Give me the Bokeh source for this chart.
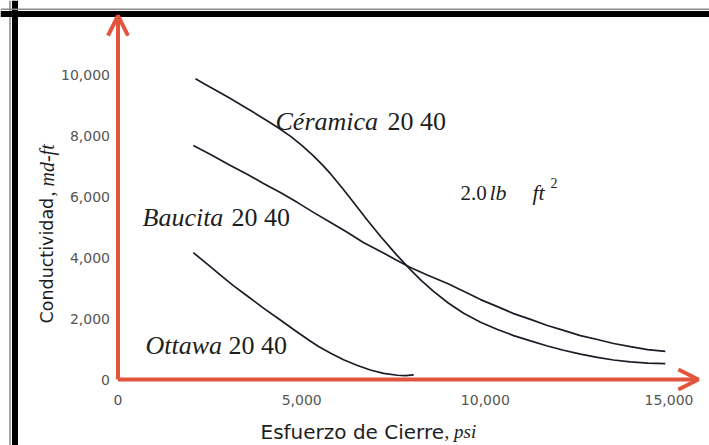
import math
from bokeh.plotting import figure
from bokeh.models import (Range1d, FixedTicker, NumeralTickFormatter, Label, Span,
                          Arrow, OpenHead)
from bokeh.embed import file_html
from bokeh.resources import INLINE

# ---------------- data ----------------
ceramica_x = [2110, 2380, 2650, 3060, 3470, 3960, 4340, 4700, 5020, 5320, 5570,
              5790, 6110, 6410, 6790, 7150, 7560, 7960, 8260, 8590, 9000, 9410,
              9870, 10330, 10770, 11230, 11690, 12130, 12590, 13050, 13490,
              13950, 14420, 14900]
ceramica_y = [9860, 9675, 9490, 9210, 8920, 8560, 8270, 7970, 7660, 7330, 7030,
              6740, 6270, 5810, 5220, 4690, 4120, 3600, 3240, 2890, 2500, 2170,
              1880, 1640, 1440, 1265, 1100, 960, 830, 725, 640, 575, 540, 520]

baucita_x = [2050, 2520, 3060, 3530, 3960, 4420, 4890, 5320, 5790, 6250, 6680,
             7150, 7560, 7960, 8450, 8970, 9410, 9870, 10330, 10770, 11230,
             11690, 12130, 12590, 13050, 13490, 13950, 14420, 14900]
baucita_y = [7670, 7380, 7020, 6720, 6430, 6130, 5800, 5480, 5150, 4820, 4490,
             4200, 3930, 3670, 3410, 3150, 2890, 2620, 2390, 2160, 1970, 1770,
             1610, 1440, 1310, 1180, 1080, 980, 920]

ottawa_x = [2050, 2440, 2790, 3140, 3530, 3960, 4420, 4780, 5160, 5460, 5790,
            6140, 6520, 6870, 7230, 7610, 7830, 8050]
ottawa_y = [4160, 3775, 3420, 3080, 2730, 2340, 1950, 1640, 1320, 1080, 860,
            650, 460, 310, 200, 140, 130, 150]

x_ticks = [0, 5000, 10000, 15000]
y_ticks = [0, 2000, 4000, 6000, 8000, 10000]
x_axis_end = 15800
y_axis_end = 11930

# ---------------- figure ----------------
W, H = 709, 445
SX = 0.036733          # px per psi
SY = 0.0305            # px per md-ft
X0 = -117.5 / SX
X1 = X0 + W / SX
Y1 = 379 / SY
Y0 = Y1 - H / SY


def px2x(px):
    return X0 + px / SX


def px2y(py):
    return Y1 - py / SY


p = figure(width=W, height=H, x_range=Range1d(X0, X1), y_range=Range1d(Y0, Y1),
           output_backend="svg", toolbar_location=None,
           min_border_left=0, min_border_right=0, min_border_top=0, min_border_bottom=0)
p.outline_line_color = None
p.grid.visible = False
p.background_fill_color = "white"
p.border_fill_color = "white"

for ax in (p.xaxis[0], p.yaxis[0]):
    ax.fixed_location = 0
    ax.axis_line_color = None
    ax.major_tick_line_color = None
    ax.minor_tick_line_color = None
    ax.major_tick_out = 0
    ax.major_tick_in = 0
    ax.formatter = NumeralTickFormatter(format="0,0")
    ax.major_label_text_font = "DejaVu Sans"
    ax.major_label_text_font_size = "14px"
    ax.major_label_text_color = "#555555"

p.xaxis.ticker = FixedTicker(ticks=x_ticks)
p.yaxis.ticker = FixedTicker(ticks=y_ticks)
p.xaxis.major_label_standoff = 15
p.yaxis.major_label_standoff = 8

# scanned frame (left and top edges)
for loc, dim, col, w in [(px2x(14.5), "height", "black", 6),
                         (px2x(9.5), "height", "#8a8a8a", 1.5),
                         (px2y(13.5), "width", "black", 6),
                         (px2y(8.8), "width", "#8a8a8a", 1.5)]:
    p.add_layout(Span(location=loc, dimension=dim, line_color=col, line_width=w))

# red arrow axes
RED = "#e2553c"
p.add_layout(Arrow(x_start=0, y_start=0, x_end=x_axis_end, y_end=0,
                   line_color=RED, line_width=4,
                   end=OpenHead(size=20, line_width=4, line_color=RED)))
p.add_layout(Arrow(x_start=0, y_start=0, x_end=0, y_end=y_axis_end,
                   line_color=RED, line_width=4,
                   end=OpenHead(size=20, line_width=4, line_color=RED)))

# curves
CURVE = "#1c1c28"
p.line(ceramica_x, ceramica_y, line_color=CURVE, line_width=1.7)
p.line(baucita_x, baucita_y, line_color=CURVE, line_width=1.7)
p.line(ottawa_x, ottawa_y, line_color=CURVE, line_width=1.7)

SERIF = "Liberation Serif"
SANS = "DejaVu Sans"
TXT = "#1e1e1e"


def lab(text, px, py, size, font=SERIF, style="normal", angle=0.0, color=TXT):
    p.add_layout(Label(x=px2x(px), y=px2y(py), text=text, text_font=font,
                       text_font_size=f"{size}px", text_font_style=style,
                       text_color=color, text_align="left",
                       text_baseline="alphabetic", angle=angle))


# curve labels
lab("Céramica", 275, 121, 26, style="italic")
lab("20 40", 387, 121, 26)
lab("Baucita", 142, 217, 26, style="italic")
lab("20 40", 231, 217, 26)
lab("Ottawa", 145, 345, 26, style="italic")
lab("20 40", 228, 345, 26)

# 2.0 lb/ft^2
lab("2.0", 460, 192, 21)
lab("lb", 489, 192, 22, style="italic")
lab("ft", 532, 192, 22, style="italic")
lab("2", 550, 182, 14)

# axis titles
lab("Esfuerzo de Cierre", 260, 431, 20, font=SANS)
lab(", psi", 444, 431, 19, style="italic")
lab("Conductividad", 46, 323, 17.5, font=SANS, angle=math.pi / 2)
lab(", md-ft", 46, 196, 20, style="italic", angle=math.pi / 2)

open("out.html", "w").write(file_html(p, INLINE))
